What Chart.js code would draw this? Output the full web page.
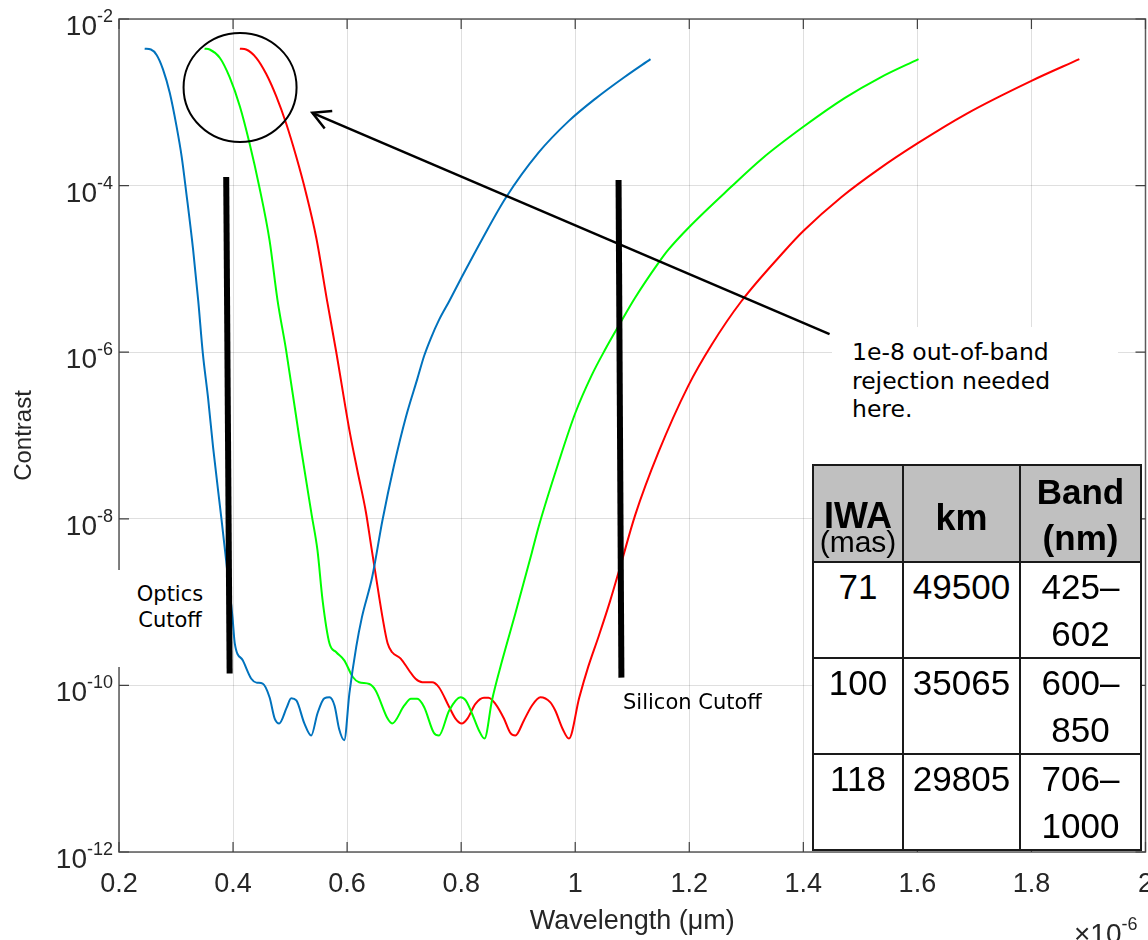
<!DOCTYPE html>
<html>
<head>
<meta charset="utf-8">
<script src="https://cdn.jsdelivr.net/npm/chart.js@4.4.1/dist/chart.umd.min.js"></script>
<style>
body{margin:0;overflow:hidden;background:#fff}
#wrap{position:relative;width:1169px;height:940px}
.box{position:absolute;font-family:"DejaVu Sans",Verdana,sans-serif;color:#000;white-space:nowrap}
#tabela{position:absolute;left:812px;top:464px;border-collapse:collapse;table-layout:fixed;font-family:"Liberation Sans",Arial,sans-serif;background:#fff;color:#000}
#tabela td{border:2px solid #1a1a1a;text-align:center;vertical-align:top;padding:0;font-size:35px;line-height:47px;overflow:hidden}
#tabela tr.cab td{background:#c0c0c0;font-weight:bold}
</style>
</head>
<body>
<div id="wrap">
  <canvas id="grafico" width="1169" height="940"></canvas>
  <div class="box" style="left:832px;top:327px;width:266px;height:128px;padding:11px 0 0 20px;font-size:23.5px;line-height:28.7px;background:#fff">1e-8 out-of-band<br>rejection needed<br>here.</div>
  <div class="box" style="left:116px;top:570px;width:108px;height:85px;padding-top:12px;font-size:21px;line-height:25.5px;text-align:center;background:#fff">Optics<br>Cutoff</div>
  <div class="box" style="left:623px;top:690px;font-size:21px;line-height:25.5px">Silicon Cutoff</div>
  <table id="tabela"></table>
</div>
<script>
// comprimento de onda em micrometros, contraste (escala log)
const blueWl = [0.245,0.256,0.266,0.277,0.289,0.301,0.310,0.318,0.330,0.339,0.347,0.356,0.365,0.380,0.388,0.399,0.403,0.417,0.432,0.441,0.452,0.464,0.473,0.481,0.494,0.502,0.511,0.525,0.537,0.548,0.560,0.569,0.578,0.586,0.595,0.604,0.616,0.626,0.644,0.662,0.682,0.703,0.723,0.735,0.747,0.761,0.779,0.802,0.837,0.878,0.936,0.988,1.035,1.086,1.132]
const blueC = [4.4e-3,4.3e-3,3.7e-3,2.5e-3,1.3e-3,5.1e-4,2.2e-4,8.2e-5,1.69e-5,4.1e-6,9.7e-7,2.9e-7,7.2e-8,9.5e-9,3.1e-9,6.6e-10,3.2e-10,2.0e-10,1.2e-10,1.08e-10,1.05e-10,7.2e-11,4.0e-11,3.5e-11,5.4e-11,7.0e-11,6.6e-11,3.5e-11,2.5e-11,4.6e-11,7.0e-11,7.2e-11,5.7e-11,3.0e-11,2.2e-11,8.0e-11,2.9e-10,6.6e-10,2.0e-9,9.6e-9,4.3e-8,1.66e-7,4.75e-7,9.0e-7,1.48e-6,2.43e-6,4.1e-6,8.2e-6,2.29e-5,7.1e-5,2.5e-4,5.9e-4,1.10e-3,2.0e-3,3.3e-3]

const greenWl = [0.350,0.359,0.377,0.394,0.412,0.429,0.446,0.464,0.478,0.493,0.516,0.538,0.548,0.557,0.569,0.581,0.595,0.610,0.621,0.639,0.650,0.671,0.679,0.700,0.712,0.723,0.735,0.752,0.761,0.779,0.799,0.808,0.819,0.831,0.841,0.854,0.872,0.895,0.924,0.936,0.971,1.000,1.029,1.052,1.079,1.105,1.146,1.163,1.200,1.273,1.327,1.400,1.473,1.534,1.602]
const greenC = [4.4e-3,4.3e-3,3.4e-3,2.0e-3,8.9e-4,3.2e-4,9.7e-5,2.2e-5,4.2e-6,1.06e-6,9.6e-8,1.1e-8,4.2e-9,1.05e-9,3.2e-10,2.5e-10,2.0e-10,1.26e-10,1.09e-10,1.04e-10,8.7e-11,4.0e-11,3.5e-11,5.7e-11,6.9e-11,6.9e-11,5.5e-11,2.7e-11,2.5e-11,5.0e-11,7.2e-11,6.6e-11,4.6e-11,2.9e-11,2.3e-11,6.6e-11,2.0e-10,7.3e-10,3.95e-9,8.1e-9,4.8e-8,1.85e-7,5.3e-7,1.06e-6,2.24e-6,4.5e-6,1.18e-5,1.69e-5,3.19e-5,9.6e-5,2.09e-4,5.08e-4,1.13e-3,1.97e-3,3.3e-3]

const redWl = [0.412,0.423,0.441,0.458,0.476,0.493,0.511,0.528,0.546,0.565,0.581,0.604,0.618,0.633,0.642,0.650,0.662,0.671,0.679,0.694,0.709,0.720,0.732,0.749,0.761,0.779,0.790,0.801,0.811,0.825,0.840,0.848,0.860,0.875,0.886,0.895,0.910,0.924,0.939,0.956,0.965,0.978,0.989,1.007,1.023,1.041,1.061,1.079,1.105,1.146,1.198,1.239,1.291,1.367,1.400,1.467,1.533,1.600,1.686,1.800,1.884]
const redC = [4.4e-3,4.3e-3,3.4e-3,2.2e-3,1.17e-3,5.6e-4,2.2e-4,8.1e-5,2.35e-5,4.11e-6,1.0e-6,1.16e-7,3.8e-8,1.2e-8,4.8e-9,2.15e-9,6.6e-10,3.2e-10,2.5e-10,2.1e-10,1.5e-10,1.2e-10,1.09e-10,1.09e-10,9.5e-11,5.5e-11,4.0e-11,3.5e-11,4.0e-11,6.0e-11,7.1e-11,7.1e-11,6.0e-11,4.0e-11,2.7e-11,2.5e-11,3.8e-11,5.7e-11,7.2e-11,6.3e-11,5.0e-11,3.0e-11,2.3e-11,7.1e-11,1.69e-10,3.87e-10,1.02e-9,2.68e-9,1.10e-8,6.3e-8,3.92e-7,1.22e-6,4.06e-6,1.64e-5,2.85e-5,7.31e-5,1.59e-4,3.21e-4,7.28e-4,1.81e-3,3.3e-3]

// barras pretas de corte
const opticsWl = [0.388, 0.394]
const opticsC = [1.27e-4, 1.39e-10]
const siliconWl = [1.076, 1.081]
const siliconC = [1.17e-4, 1.24e-10]

const xTickVals = [0.2,0.4,0.6,0.8,1,1.2,1.4,1.6,1.8,2]
const xTickLabels = ['0.2','0.4','0.6','0.8','1','1.2','1.4','1.6','1.8','2']
const yTickExps = [-2,-4,-6,-8,-10,-12]

// circulo e seta (coordenadas de dados)
const circulo = [0.4123, 1.51e-3]
const setaDe = [1.446, 1.65e-6]
const setaPara = [0.539, 7.48e-4]

const tabelaCab = [['IWA','(mas)'], ['km'], ['Band','(nm)']]
const tabelaLinhas = [
  ['71','49500','425–','602'],
  ['100','35065','600–','850'],
  ['118','29805','706–','1000']
]

const pontos = (wl, c) => wl.map((v, i) => ({x: v, y: c[i]}))
const fonteMat = '"Liberation Sans", Arial, sans-serif'

const montarTabela = () => {
  const t = document.getElementById('tabela')
  const cg = document.createElement('colgroup')
  ;[90, 117, 121].forEach(w => {
    const col = document.createElement('col')
    col.style.width = w + 'px'
    cg.appendChild(col)
  })
  t.appendChild(cg)
  const cab = document.createElement('tr')
  cab.className = 'cab'
  cab.style.height = '96px'
  const c1 = document.createElement('td')
  c1.style.paddingTop = '36px'
  c1.innerHTML = `<div style="font-size:36px;line-height:28px">${tabelaCab[0][0]}</div><div style="font-size:30px;line-height:24px;font-weight:normal">${tabelaCab[0][1]}</div>`
  const c2 = document.createElement('td')
  c2.style.paddingTop = '29px'
  c2.style.fontSize = '36px'
  c2.style.lineHeight = '46px'
  c2.textContent = tabelaCab[1][0]
  const c3 = document.createElement('td')
  c3.style.paddingTop = '3px'
  c3.style.lineHeight = '46px'
  c3.innerHTML = tabelaCab[2].join('<br>')
  cab.append(c1, c2, c3)
  t.appendChild(cab)
  tabelaLinhas.forEach(l => {
    const tr = document.createElement('tr')
    tr.style.height = '94px'
    const a = document.createElement('td'); a.textContent = l[0]
    const b = document.createElement('td'); b.textContent = l[1]
    const c = document.createElement('td'); c.innerHTML = l[2] + '<br>' + l[3]
    tr.append(a, b, c)
    t.appendChild(tr)
  })
}

const enfeites = {
  id: 'enfeites',
  afterDraw(chart) {
    const {ctx, chartArea: a, scales: {x, y}} = chart
    ctx.save()
    // moldura
    ctx.strokeStyle = '#5a5a5a'
    ctx.lineWidth = 1.5
    ctx.strokeRect(a.left, a.top, a.right - a.left, a.bottom - a.top)
    // ticks para dentro
    ctx.strokeStyle = '#404040'
    ctx.lineWidth = 1.2
    ctx.beginPath()
    x.ticks.forEach(t => {
      const px = x.getPixelForValue(t.value)
      ctx.moveTo(px, a.bottom); ctx.lineTo(px, a.bottom - 10)
      ctx.moveTo(px, a.top); ctx.lineTo(px, a.top + 10)
    })
    y.ticks.forEach(t => {
      const py = y.getPixelForValue(t.value)
      ctx.moveTo(a.left, py); ctx.lineTo(a.left + 10, py)
      ctx.moveTo(a.right, py); ctx.lineTo(a.right - 10, py)
    })
    ctx.stroke()
    // rotulos 10^n
    ctx.fillStyle = '#262626'
    ctx.textBaseline = 'alphabetic'
    yTickExps.forEach(e => {
      const py = y.getPixelForValue(Math.pow(10, e))
      const expo = String(e)
      ctx.font = '18px ' + fonteMat
      const w = ctx.measureText(expo).width
      const dir = a.left - 6
      ctx.textAlign = 'left'
      ctx.fillText(expo, dir - w, py + 3)
      ctx.font = '28px ' + fonteMat
      ctx.textAlign = 'right'
      ctx.fillText('10', dir - w, py + 16)
    })
    // x10^-6
    ctx.textAlign = 'left'
    ctx.font = '28px ' + fonteMat
    ctx.fillText('×10', 1074, 943)
    const wx = ctx.measureText('×10').width
    ctx.font = '18px ' + fonteMat
    ctx.fillText('-6', 1074 + wx, 930)
    // circulo
    ctx.strokeStyle = '#000'
    ctx.lineWidth = 2
    ctx.beginPath()
    ctx.ellipse(x.getPixelForValue(circulo[0]), y.getPixelForValue(circulo[1]), 56.5, 54.5, 0, 0, Math.PI * 2)
    ctx.stroke()
    // seta
    const p0 = {x: x.getPixelForValue(setaDe[0]), y: y.getPixelForValue(setaDe[1])}
    const p1 = {x: x.getPixelForValue(setaPara[0]), y: y.getPixelForValue(setaPara[1])}
    ctx.lineWidth = 2.5
    ctx.beginPath()
    ctx.moveTo(p0.x, p0.y)
    ctx.lineTo(p1.x, p1.y)
    ctx.stroke()
    const ang = Math.atan2(p0.y - p1.y, p0.x - p1.x)
    ctx.beginPath()
    ctx.moveTo(p1.x + 20 * Math.cos(ang - 0.5), p1.y + 20 * Math.sin(ang - 0.5))
    ctx.lineTo(p1.x, p1.y)
    ctx.lineTo(p1.x + 20 * Math.cos(ang + 0.5), p1.y + 20 * Math.sin(ang + 0.5))
    ctx.stroke()
    ctx.restore()
  }
}

const linha = (label, data, cor, largura, ordem, suave) => ({
  label, data, borderColor: cor, backgroundColor: cor, borderWidth: largura,
  pointRadius: 0, fill: false, order: ordem, borderCapStyle: 'butt',
  cubicInterpolationMode: suave ? 'monotone' : 'default', tension: 0
})

const gerarGrafico = () => {
  const grade = {color: 'rgba(38,38,38,0.15)', drawTicks: false, lineWidth: 1}
  new Chart(document.getElementById('grafico'), {
    type: 'line',
    data: {
      datasets: [
        linha('425–602 nm', pontos(blueWl, blueC), '#0072BD', 2, 1, true),
        linha('600–850 nm', pontos(greenWl, greenC), '#00FF00', 2, 1, true),
        linha('706–1000 nm', pontos(redWl, redC), '#FF0000', 2, 1, true),
        linha('Optics Cutoff', pontos(opticsWl, opticsC), '#000', 6, 0, false),
        linha('Silicon Cutoff', pontos(siliconWl, siliconC), '#000', 6, 0, false)
      ]
    },
    options: {
      responsive: false,
      animation: false,
      devicePixelRatio: 1,
      layout: {padding: {left: 0, top: 19, right: 20, bottom: 0}},
      plugins: {legend: {display: false}, tooltip: {enabled: false}},
      scales: {
        x: {
          type: 'linear', min: 0.2, max: 2,
          afterBuildTicks: s => { s.ticks = xTickVals.map(v => ({value: v})) },
          afterFit: s => { s.height = 88 },
          ticks: {callback: (v, i) => xTickLabels[i], font: {family: fonteMat, size: 27}, color: '#262626', padding: 16, maxRotation: 0, autoSkip: false},
          grid: grade,
          border: {display: false},
          title: {display: true, text: 'Wavelength (μm)', color: '#262626', font: {family: fonteMat, size: 27}, padding: {top: 0, bottom: 2}}
        },
        y: {
          type: 'logarithmic', min: 1e-12, max: 1e-2,
          afterBuildTicks: s => { s.ticks = yTickExps.map(e => ({value: Math.pow(10, e)})) },
          afterFit: s => { s.width = 119 },
          ticks: {display: false},
          grid: grade,
          border: {display: false},
          title: {display: true, text: 'Contrast', color: '#262626', font: {family: fonteMat, size: 24}, padding: {top: 10, bottom: 0}}
        }
      }
    },
    plugins: [enfeites]
  })
}

montarTabela()
gerarGrafico()
</script>
</body>
</html>
